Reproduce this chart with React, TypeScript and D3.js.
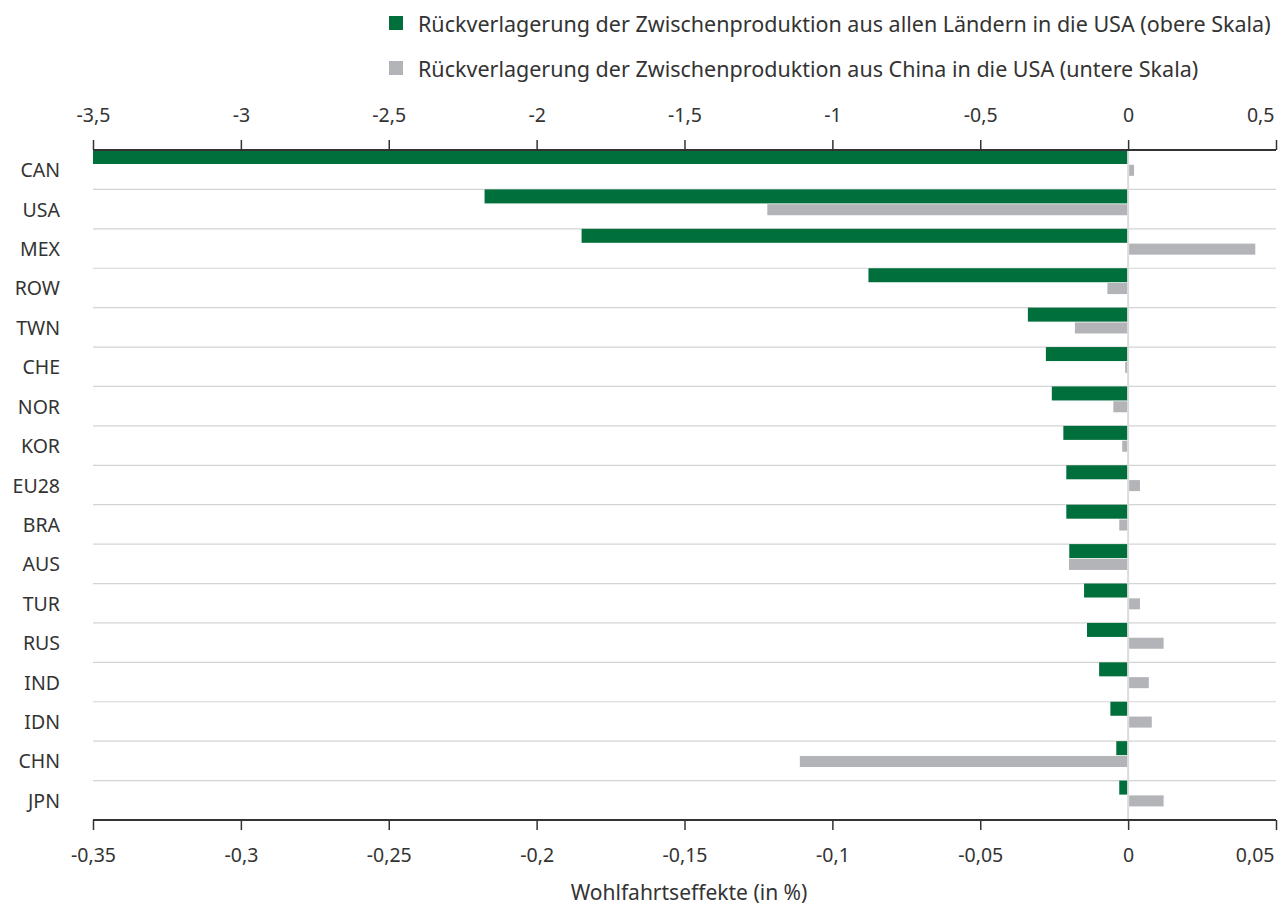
import { useEffect, useRef } from 'react'
import * as d3 from 'd3'

// Countries, top to bottom
const countries = ['CAN', 'USA', 'MEX', 'ROW', 'TWN', 'CHE', 'NOR', 'KOR', 'EU28', 'BRA', 'AUS', 'TUR', 'RUS', 'IND', 'IDN', 'CHN', 'JPN']

// Rückverlagerung aus allen Ländern (obere Skala)
const allCountries = [-3.5, -2.176, -1.848, -0.878, -0.339, -0.278, -0.258, -0.219, -0.209, -0.209, -0.199, -0.149, -0.139, -0.098, -0.06, -0.04, -0.03]

// Rückverlagerung aus China (untere Skala)
const fromChina = [0.002, -0.122, 0.043, -0.007, -0.018, -0.001, -0.005, -0.002, 0.004, -0.003, -0.02, 0.004, 0.012, 0.007, 0.008, -0.111, 0.012]

const topTicks = [-3.5, -3, -2.5, -2, -1.5, -1, -0.5, 0, 0.5]
const bottomTicks = [-0.35, -0.3, -0.25, -0.2, -0.15, -0.1, -0.05, 0, 0.05]

const legendLabels = [
  'Rückverlagerung der Zwischenproduktion aus allen Ländern in die USA (obere Skala)',
  'Rückverlagerung der Zwischenproduktion aus China in die USA (untere Skala)',
]

const GREEN = '#006f3b'
const GREY = '#b3b4b7'
const TEXT = '#333333'
const FONT = '"Noto Sans", "Open Sans", sans-serif'

const fmt = (v: number) => String(v).replace('.', ',')

export default function App() {
  const svgRef = useRef<SVGSVGElement>(null)

  useEffect(() => {
    if (!svgRef.current) return
    const svg = d3.select(svgRef.current)
    svg.selectAll('*').remove()

    const left = 93
    const right = 1276
    const top = 150
    const bottom = 820

    const xTop = d3.scaleLinear().domain([-3.5, 0.5]).range([left, right])
    const xBottom = d3.scaleLinear().domain([-0.35, 0.05]).range([left, right])
    const y = d3.scaleBand<string>().domain(countries).range([top, bottom]).paddingInner(0)
    const bw = y.bandwidth()

    const g = svg.append('g').style('font-family', FONT)

    // row separators
    g.append('g')
      .selectAll('line')
      .data(countries.slice(1))
      .join('line')
      .attr('x1', left)
      .attr('x2', right)
      .attr('y1', d => y(d)!)
      .attr('y2', d => y(d)!)
      .attr('stroke', '#d4d4d4')
      .attr('stroke-width', 1.2)

    // zero line
    g.append('line')
      .attr('x1', xTop(0))
      .attr('x2', xTop(0))
      .attr('y1', top)
      .attr('y2', bottom)
      .attr('stroke', '#dcdcdc')
      .attr('stroke-width', 2)

    const greenH = bw * 0.355
    const greyH = bw * 0.28

    g.append('g')
      .selectAll('rect')
      .data(countries)
      .join('rect')
      .attr('x', (d, i) => Math.min(xTop(allCountries[i]), xTop(0)))
      .attr('width', (d, i) => Math.max(0, Math.abs(xTop(allCountries[i]) - xTop(0)) - 1))
      .attr('y', d => y(d)!)
      .attr('height', greenH)
      .attr('fill', GREEN)

    g.append('g')
      .selectAll('rect')
      .data(countries)
      .join('rect')
      .attr('x', (d, i) => fromChina[i] < 0 ? xBottom(fromChina[i]) : xBottom(0) + 1)
      .attr('width', (d, i) => Math.max(0, Math.abs(xBottom(fromChina[i]) - xBottom(0)) - 1))
      .attr('y', d => y(d)! + greenH + 0.8)
      .attr('height', greyH)
      .attr('fill', GREY)

    // category labels
    g.append('g')
      .selectAll('text')
      .data(countries)
      .join('text')
      .attr('x', 60)
      .attr('y', d => y(d)! + bw / 2)
      .attr('text-anchor', 'end')
      .attr('dominant-baseline', 'central')
      .attr('font-size', 19.5)
      .attr('fill', TEXT)
      .text(d => d)

    // top axis
    const topAxis = g.append('g').attr('transform', `translate(0,${top})`)
      .call(d3.axisTop(xTop).tickValues(topTicks).tickSize(10).tickPadding(18).tickFormat(d => fmt(+d)))
    // bottom axis
    const bottomAxis = g.append('g').attr('transform', `translate(0,${bottom})`)
      .call(d3.axisBottom(xBottom).tickValues(bottomTicks).tickSize(10).tickPadding(18).tickFormat(d => fmt(+d)))

    for (const ax of [topAxis, bottomAxis]) {
      ax.select('.domain').remove()
      ax.append('line').attr('x1', left).attr('x2', right).attr('stroke', TEXT).attr('stroke-width', 2)
      ax.selectAll('.tick line').attr('stroke', TEXT).attr('stroke-width', 1.5)
      ax.selectAll('.tick text').attr('font-size', 19.5).attr('fill', TEXT).style('font-family', FONT)
      // last label sits inside the right edge
      ax.selectAll<SVGTextElement, unknown>('.tick:last-of-type text')
        .attr('text-anchor', 'end')
        .attr('x', -2)
    }

    g.append('text')
      .attr('x', 689)
      .attr('y', 892)
      .attr('text-anchor', 'middle')
      .attr('dominant-baseline', 'central')
      .attr('font-size', 21)
      .attr('fill', TEXT)
      .text('Wohlfahrtseffekte (in %)')

    // legend
    const legend = g.append('g')
    const colors = [GREEN, GREY]
    legendLabels.forEach((label, i) => {
      const cy = 23 + i * 45
      legend.append('rect')
        .attr('x', 389)
        .attr('y', cy - 7)
        .attr('width', 14)
        .attr('height', 14)
        .attr('fill', colors[i])
      legend.append('text')
        .attr('x', 418)
        .attr('y', cy)
        .attr('dominant-baseline', 'central')
        .attr('font-size', 21.5)
        .attr('fill', TEXT)
        .text(label)
    })
  }, [])

  return (
    <svg
      ref={svgRef}
      width={1281}
      height={906}
      style={{ position: 'absolute', left: 0, top: 0, background: '#fff' }}
    />
  )
}
